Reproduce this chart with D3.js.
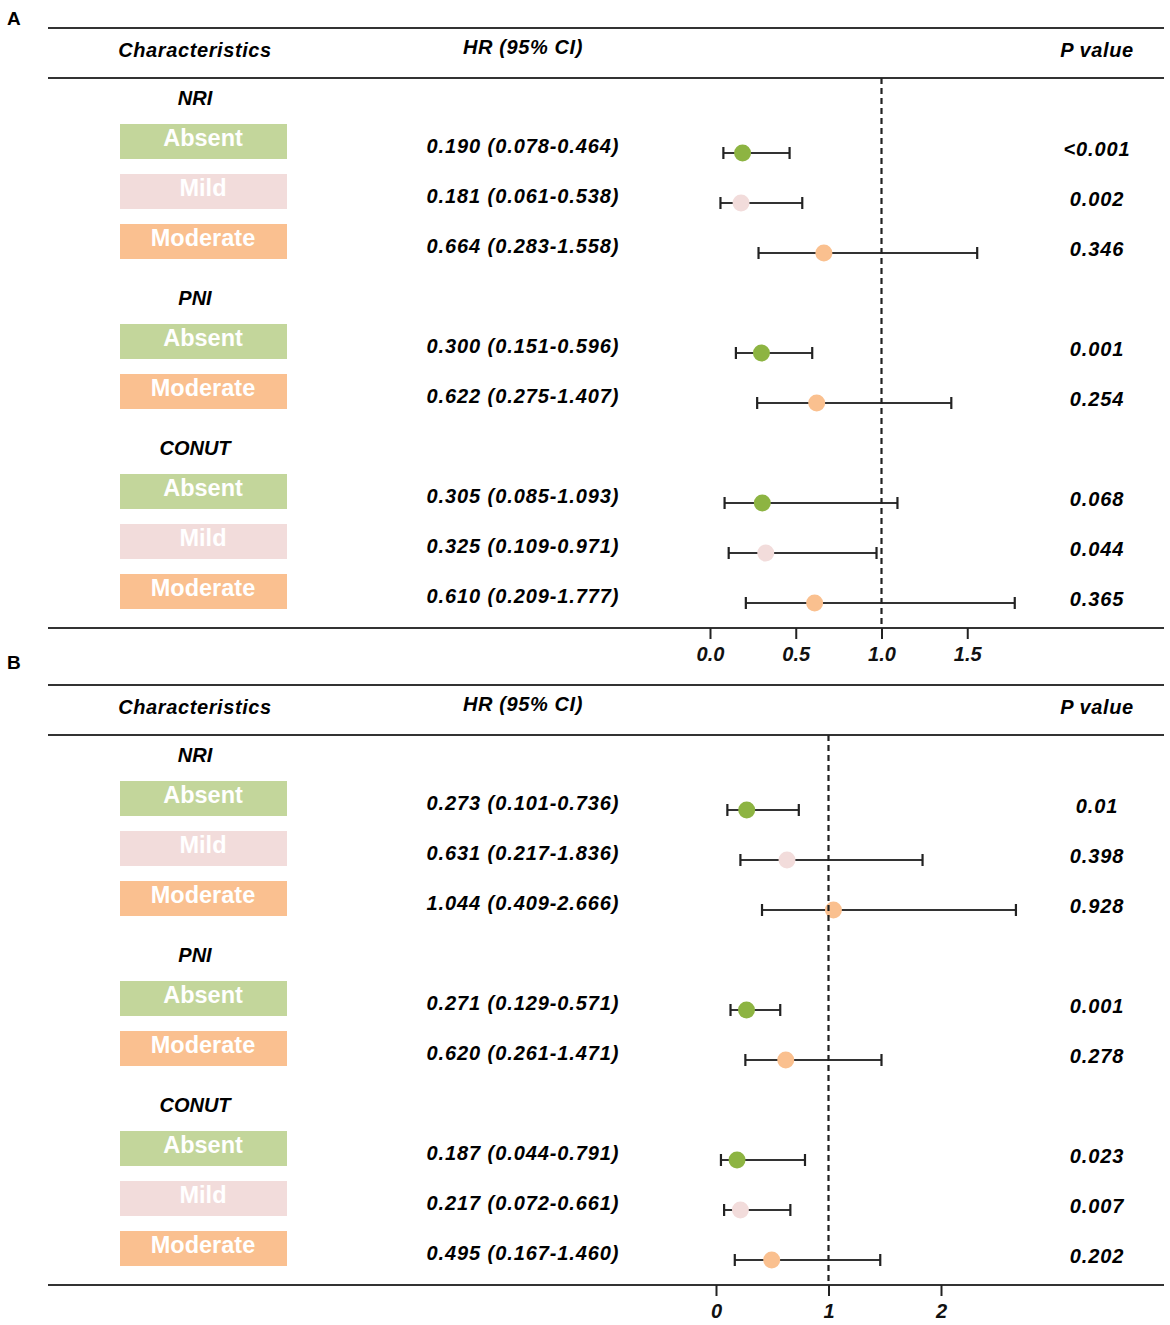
<!DOCTYPE html>
<html>
<head>
<meta charset="utf-8">
<script src="https://cdn.jsdelivr.net/npm/d3@7"></script>
<style>
  body { margin: 0; background: #fff; }
  text { font-family: "Liberation Sans", Arial, sans-serif; }
</style>
</head>
<body>
<div class="chart"></div>
<script>
// DATA
const groups = ['NRI', 'PNI', 'CONUT'];
const rowGroup = [0, 0, 0, 1, 1, 2, 2, 2];
const categories = ['Absent', 'Mild', 'Moderate', 'Absent', 'Moderate', 'Absent', 'Mild', 'Moderate'];

const hrA = [0.190, 0.181, 0.664, 0.300, 0.622, 0.305, 0.325, 0.610];
const lowA = [0.078, 0.061, 0.283, 0.151, 0.275, 0.085, 0.109, 0.209];
const highA = [0.464, 0.538, 1.558, 0.596, 1.407, 1.093, 0.971, 1.777];
const pA = ['<0.001', '0.002', '0.346', '0.001', '0.254', '0.068', '0.044', '0.365'];
const ticksA = [0, 0.5, 1.0, 1.5];

const hrB = [0.273, 0.631, 1.044, 0.271, 0.620, 0.187, 0.217, 0.495];
const lowB = [0.101, 0.217, 0.409, 0.129, 0.261, 0.044, 0.072, 0.167];
const highB = [0.736, 1.836, 2.666, 0.571, 1.471, 0.791, 0.661, 1.460];
const pB = ['0.01', '0.398', '0.928', '0.001', '0.278', '0.023', '0.007', '0.202'];
const ticksB = [0, 1, 2];

const boxColor = { Absent: '#c3d69b', Mild: '#f2dcdb', Moderate: '#fac090' };
const dotColor = { Absent: '#8db442', Mild: '#f2dcdb', Moderate: '#fac08f' };

const svg = d3.select('.chart').append('svg')
              .attr('width', 1170)
              .attr('height', 1325);

// one forest panel
function panel(top, letter, letterY, hr, low, high, p, ticks, x, tickFmt) {
  const g = svg.append('g').attr('transform', `translate(0,${top})`);

  // row slot -> y ; slot = row index + group index
  const y = d3.scaleLinear().domain([0, 1]).range([153, 203]);
  const slot = i => i + rowGroup[i];
  const bottom = 628;

  g.append('text')
   .attr('x', 7).attr('y', letterY)
   .attr('font-size', 19).attr('font-weight', 'bold')
   .text(letter);

  // table rules
  [28, 78, bottom].forEach(yy => {
    g.append('line')
     .attr('x1', 48).attr('x2', 1164)
     .attr('y1', yy).attr('y2', yy)
     .attr('stroke', '#333').attr('stroke-width', 2);
  });

  const head = g.append('g')
                .attr('font-size', 20).attr('font-weight', 'bold')
                .attr('font-style', 'italic').attr('text-anchor', 'middle')
                .attr('letter-spacing', 0.6);
  head.append('text').attr('x', 195).attr('y', 57).text('Characteristics');
  head.append('text').attr('x', 523).attr('y', 54).text('HR (95% CI)');
  head.append('text').attr('x', 1097).attr('y', 57).text('P value');

  // group labels
  groups.forEach((name, gi) => {
    const first = rowGroup.indexOf(gi);
    g.append('text')
     .attr('x', 195).attr('y', y(slot(first)) - 48)
     .attr('text-anchor', 'middle')
     .attr('font-size', 20).attr('font-weight', 'bold').attr('font-style', 'italic')
     .text(name);
  });

  // category boxes
  const rows = g.selectAll('.row').data(categories).join('g').attr('class', 'row');
  rows.append('rect')
      .attr('x', 120).attr('width', 167)
      .attr('y', (d, i) => y(slot(i)) - 29).attr('height', 35)
      .attr('fill', d => boxColor[d]);
  rows.append('text')
      .attr('x', 203).attr('y', (d, i) => y(slot(i)) - 7)
      .attr('text-anchor', 'middle')
      .attr('font-family', '"Open Sans", sans-serif')
      .attr('font-size', 23.5).attr('font-weight', 'bold')
      .attr('fill', '#fff')
      .text(d => d);

  // HR text and p values
  rows.append('text')
      .attr('x', 523).attr('y', (d, i) => y(slot(i)))
      .attr('text-anchor', 'middle')
      .attr('font-size', 20).attr('font-weight', 'bold').attr('font-style', 'italic')
      .attr('letter-spacing', 0.9)
      .text((d, i) => `${hr[i].toFixed(3)} (${low[i].toFixed(3)}-${high[i].toFixed(3)})`);
  rows.append('text')
      .attr('x', 1097).attr('y', (d, i) => y(slot(i)) + 3)
      .attr('text-anchor', 'middle')
      .attr('font-size', 20).attr('font-weight', 'bold').attr('font-style', 'italic')
      .attr('letter-spacing', 0.9)
      .text((d, i) => p[i]);

  // reference line at HR = 1
  g.append('line')
   .attr('x1', x(1)).attr('x2', x(1))
   .attr('y1', 78).attr('y2', bottom)
   .attr('stroke', '#222').attr('stroke-width', 2.2)
   .attr('stroke-dasharray', '6,4');

  // error bars
  rows.append('line')
      .attr('x1', (d, i) => x(low[i])).attr('x2', (d, i) => x(high[i]))
      .attr('y1', (d, i) => y(slot(i))).attr('y2', (d, i) => y(slot(i)))
      .attr('stroke', '#333').attr('stroke-width', 2.2);
  [low, high].forEach(arr => {
    rows.append('line')
        .attr('x1', (d, i) => x(arr[i])).attr('x2', (d, i) => x(arr[i]))
        .attr('y1', (d, i) => y(slot(i)) - 6).attr('y2', (d, i) => y(slot(i)) + 6)
        .attr('stroke', '#222').attr('stroke-width', 2.2);
  });
  rows.append('circle')
      .attr('cx', (d, i) => x(hr[i])).attr('cy', (d, i) => y(slot(i)))
      .attr('r', 8.5)
      .attr('fill', d => dotColor[d]);

  // x axis
  const axis = g.append('g')
                .attr('transform', `translate(0,${bottom})`)
                .call(d3.axisBottom(x).tickValues(ticks).tickFormat(tickFmt)
                        .tickSize(11).tickPadding(8));
  axis.select('.domain').remove();
  axis.selectAll('.tick line').attr('stroke', '#222').attr('stroke-width', 2);
  axis.selectAll('.tick text')
      .attr('font-family', '"Liberation Sans", Arial, sans-serif')
      .attr('font-size', 20).attr('font-weight', 'bold').attr('font-style', 'italic')
      .attr('fill', '#111');
}

const xA = d3.scaleLinear().domain([0, 1]).range([710, 881.5]);
const xB = d3.scaleLinear().domain([0, 1]).range([716, 828.5]);

panel(0, 'A', 25, hrA, lowA, highA, pA, ticksA, xA, d3.format('.1f'));
panel(657, 'B', 12, hrB, lowB, highB, pB, ticksB, xB, d3.format('d'));
</script>
</body>
</html>
